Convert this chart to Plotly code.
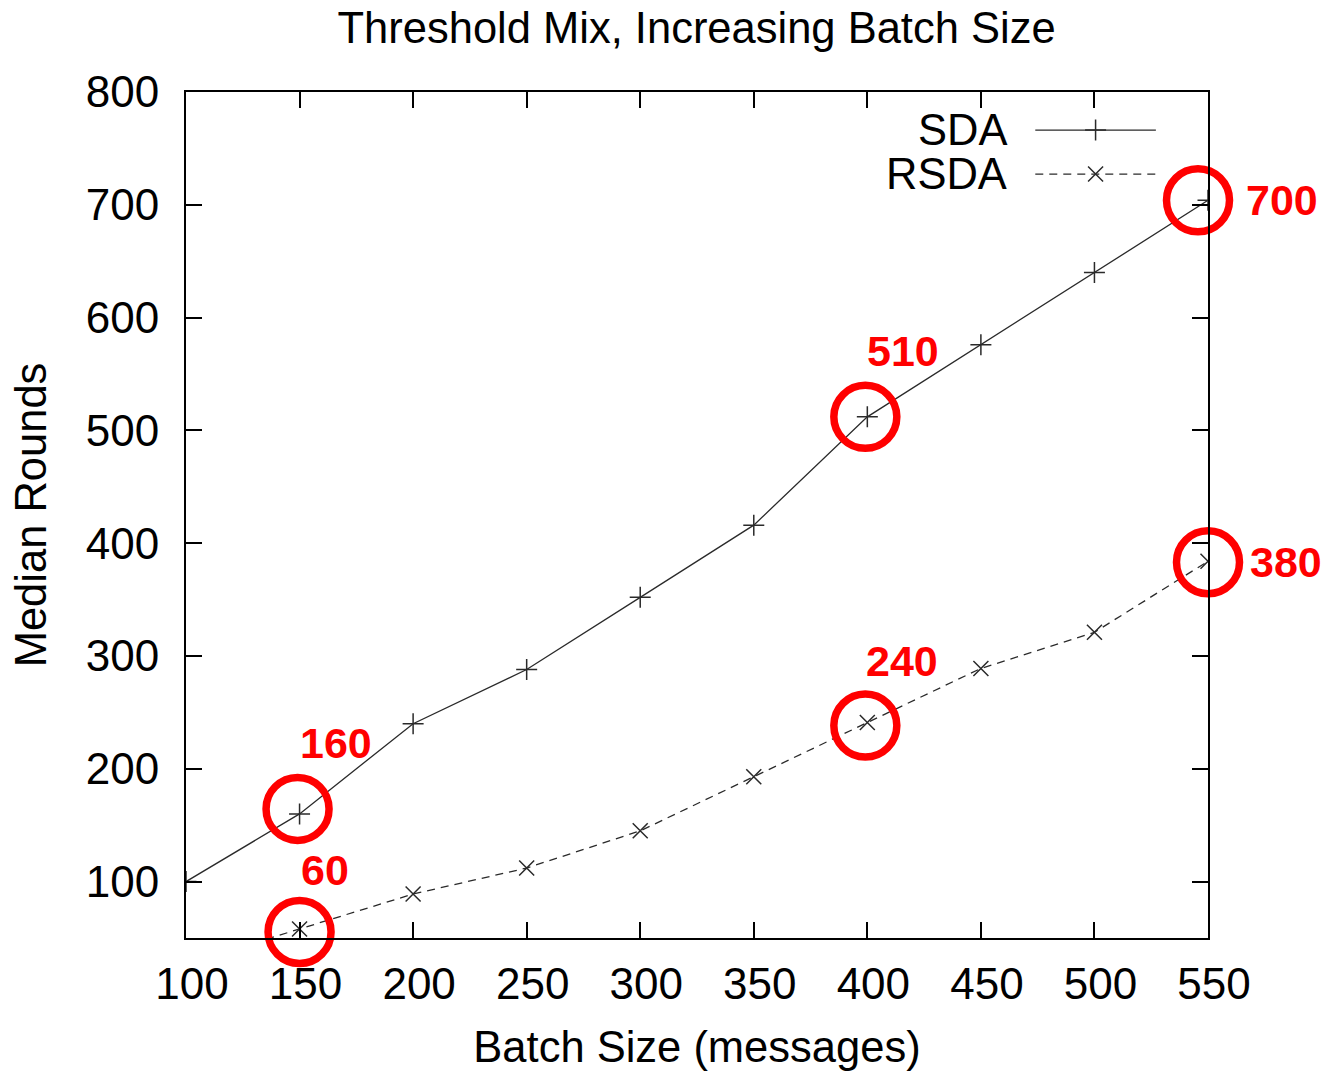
import plotly.graph_objects as go

# Data
batch_sizes = [100, 150, 200, 250, 300, 350, 400, 450, 500, 550]
sda_rounds = [100, 160, 240, 288, 352, 416, 512, 576, 640, 704]
rsda_rounds = [27, 58, 89, 112, 145, 193, 241, 289, 321, 384]

x_ticks = [100, 150, 200, 250, 300, 350, 400, 450, 500, 550]
y_ticks = [100, 200, 300, 400, 500, 600, 700, 800]

# Highlighted points: (series, batch size, label)
hl_series = ["SDA", "RSDA", "SDA", "RSDA", "SDA", "RSDA"]
hl_batch = [150, 150, 400, 400, 550, 550]
hl_labels = ["160", "60", "510", "240", "700", "380"]
# circle offset from the point and label offset from the circle (pixels)
hl_circle_dx = [-2, 0, -2, -2, -10, 0]
hl_circle_dy = [-5, 3, 0, 3, 0, 1]
hl_label_dx = [38, 25, 38, 37, 84, 78]
hl_label_dy = [-66, -62, -66, -65, 0, 0]

FONT = "Liberation Sans, Arial, sans-serif"
LINE_C = "#2a2a2a"
RED = "#ff0000"

X_RANGE = [100, 550]
Y_RANGE = [50, 800]
W, H = 1323, 1071
ML, MR, MT, MB = 186, 115, 92, 133
PX_W = W - ML - MR
PX_H = H - MT - MB

fig = go.Figure()

fig.add_trace(go.Scatter(
    x=batch_sizes, y=sda_rounds, mode="lines+markers", name="SDA",
    line=dict(color=LINE_C, width=1.3),
    marker=dict(symbol="cross-thin-open", size=15, color=LINE_C,
                line=dict(color=LINE_C, width=1.5)),
    showlegend=False,
))
fig.add_trace(go.Scatter(
    x=batch_sizes, y=rsda_rounds, mode="lines+markers", name="RSDA",
    line=dict(color=LINE_C, width=1.3, dash="8px,6px"),
    marker=dict(symbol="x-thin-open", size=15, color=LINE_C,
                line=dict(color=LINE_C, width=1.5)),
    showlegend=False,
))

# Manual gnuplot-style legend on an overlay axis (fractions of the plot area)
leg_names = ["SDA", "RSDA"]
leg_y = [0.955, 0.903]
leg_dash = ["solid", "8px,6px"]
leg_sym = ["cross-thin-open", "x-thin-open"]
for name, yy, dsh, sym in zip(leg_names, leg_y, leg_dash, leg_sym):
    fig.add_trace(go.Scatter(
        x=[0.831, 0.949], y=[yy, yy], mode="lines", xaxis="x2", yaxis="y2",
        line=dict(color=LINE_C, width=1.3, dash=dsh), showlegend=False, hoverinfo="skip",
    ))
    fig.add_trace(go.Scatter(
        x=[0.89], y=[yy], mode="markers", xaxis="x2", yaxis="y2",
        marker=dict(symbol=sym, size=15, color=LINE_C, line=dict(color=LINE_C, width=1.5)),
        showlegend=False, hoverinfo="skip",
    ))
    fig.add_annotation(
        x=0.805, y=yy, xref="x2", yref="y2", text=name, showarrow=False,
        xanchor="right", yanchor="middle",
        font=dict(family=FONT, size=43.5, color="black"),
    )

# Red highlight circles (unclipped markers) and labels
cx, cy = [], []
for s, b, cdx, cdy in zip(hl_series, hl_batch, hl_circle_dx, hl_circle_dy):
    vals = sda_rounds if s == "SDA" else rsda_rounds
    yv = vals[batch_sizes.index(b)]
    cx.append(b + cdx * (X_RANGE[1] - X_RANGE[0]) / PX_W)
    cy.append(yv - cdy * (Y_RANGE[1] - Y_RANGE[0]) / PX_H)
fig.add_trace(go.Scatter(
    x=cx, y=cy, mode="markers", cliponaxis=False, showlegend=False, hoverinfo="skip",
    marker=dict(symbol="circle-open", size=63, color=RED, line=dict(color=RED, width=7.5)),
))
for x0, y0, lab, ldx, ldy in zip(cx, cy, hl_labels, hl_label_dx, hl_label_dy):
    fig.add_annotation(
        x=x0, y=y0, xref="x", yref="y", text=f"<b>{lab}</b>", showarrow=False,
        xshift=ldx, yshift=-ldy, xanchor="center", yanchor="middle",
        font=dict(family=FONT, size=43, color=RED),
    )

axis_common = dict(
    showline=True, linecolor="black", linewidth=2, mirror="ticks",
    ticks="inside", ticklen=16, tickwidth=2, tickcolor="black",
    showgrid=False, zeroline=False, automargin=False,
    tickfont=dict(family=FONT, size=44, color="black"),
)

fig.update_layout(
    width=W, height=H,
    margin=dict(l=ML, r=MR, t=MT, b=MB, autoexpand=False),
    paper_bgcolor="white", plot_bgcolor="white",
    title=dict(text="Threshold Mix, Increasing Batch Size", x=0.5265, xanchor="center",
               y=1 - 28 / H, yanchor="middle",
               font=dict(family=FONT, size=43.5, color="black")),
    xaxis=dict(range=X_RANGE, tickvals=x_ticks, ticktext=[str(v) for v in x_ticks],
               ticklabelstandoff=6, ticklabelshift=6,
               title=dict(text="Batch Size (messages)", standoff=34,
                          font=dict(family=FONT, size=43.5, color="black")),
               **axis_common),
    yaxis=dict(range=Y_RANGE, tickvals=y_ticks, ticktext=[str(v) for v in y_ticks],
               ticklabelstandoff=16,
               title=dict(text="Median Rounds", standoff=26,
                          font=dict(family=FONT, size=43.5, color="black")),
               **axis_common),
    xaxis2=dict(overlaying="x", range=[0, 1], visible=False, fixedrange=True),
    yaxis2=dict(overlaying="y", range=[0, 1], visible=False, fixedrange=True),
    showlegend=False,
)

fig.write_html("out.html")
